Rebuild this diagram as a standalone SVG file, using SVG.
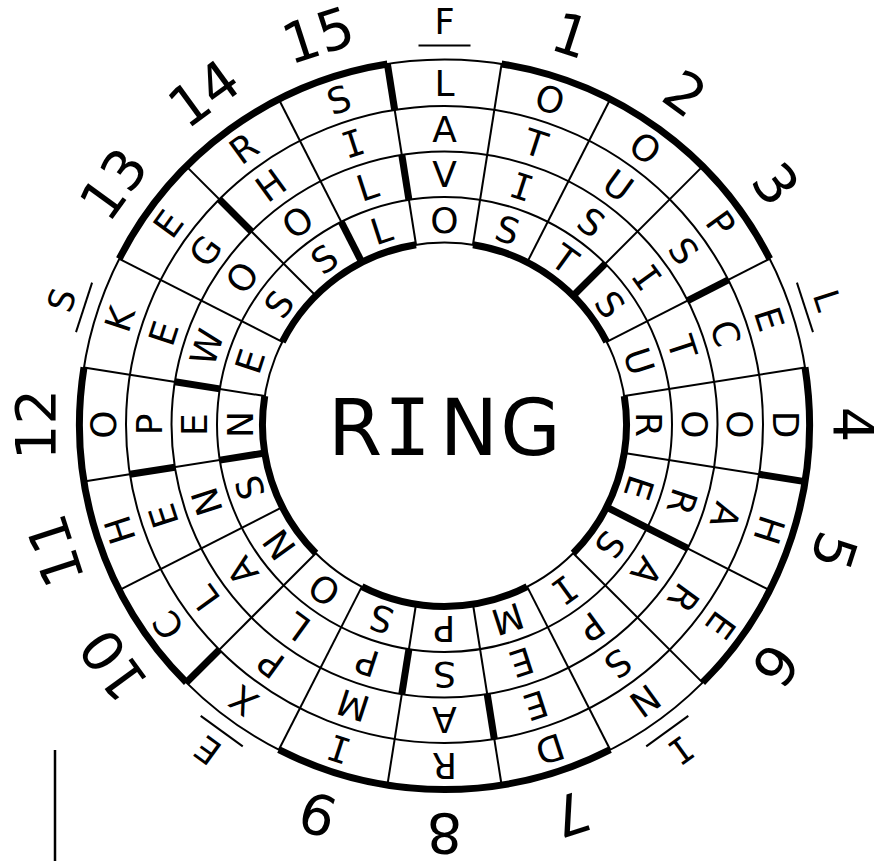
<svg xmlns="http://www.w3.org/2000/svg" width="885" height="861" viewBox="0 0 885 861">
<style>
.thin{fill:none;stroke:#000;stroke-width:2}
.thick{fill:none;stroke:#000;stroke-width:7}
text{font-family:"DejaVu Sans",Verdana,sans-serif;fill:#000;text-anchor:middle}
.c{font-size:36px}
.n{font-size:56px}
.l{font-size:35px}
.i{font-family:"DejaVu Sans Mono",monospace}
.ring{font-size:78px}
.bar{stroke:#000;stroke-width:2}
</style>
<defs>
<line id="rad" class="thin" x1="0" y1="-182" x2="0" y2="-365"/>
<line id="t1" class="thick" x1="0" y1="-318.5" x2="0" y2="-365"/>
<line id="t2" class="thick" x1="0" y1="-273" x2="0" y2="-318.5"/>
<line id="t3" class="thick" x1="0" y1="-227.5" x2="0" y2="-273"/>
<line id="t4" class="thick" x1="0" y1="-182" x2="0" y2="-227.5"/>
</defs>
<rect width="885" height="861" fill="#fff"/>
<g transform="translate(444.5 424.5)">
<g id="grid">
<circle class="thin" r="182"/>
<circle class="thin" r="227.5"/>
<circle class="thin" r="273"/>
<circle class="thin" r="318.5"/>
<circle class="thin" r="365"/>
<use href="#rad" transform="rotate(9)"/>
<use href="#rad" transform="rotate(27)"/>
<use href="#rad" transform="rotate(45)"/>
<use href="#rad" transform="rotate(63)"/>
<use href="#rad" transform="rotate(81)"/>
<use href="#rad" transform="rotate(99)"/>
<use href="#rad" transform="rotate(117)"/>
<use href="#rad" transform="rotate(135)"/>
<use href="#rad" transform="rotate(153)"/>
<use href="#rad" transform="rotate(171)"/>
<use href="#rad" transform="rotate(189)"/>
<use href="#rad" transform="rotate(207)"/>
<use href="#rad" transform="rotate(225)"/>
<use href="#rad" transform="rotate(243)"/>
<use href="#rad" transform="rotate(261)"/>
<use href="#rad" transform="rotate(279)"/>
<use href="#rad" transform="rotate(297)"/>
<use href="#rad" transform="rotate(315)"/>
<use href="#rad" transform="rotate(333)"/>
<use href="#rad" transform="rotate(351)"/>
</g>
<g id="borders">
<path class="thick" d="M57.10,-360.51A365,365 0 0 1 325.22,-165.71M360.51,-57.10A365,365 0 0 1 258.09,258.09M165.71,325.22A365,365 0 0 1 -165.71,325.22M-258.09,258.09A365,365 0 0 1 -360.51,-57.10M-325.22,-165.71A365,365 0 0 1 -57.10,-360.51"/>
<path class="thick" d="M28.47,-179.76A182,182 0 0 1 162.16,-82.63M179.76,-28.47A182,182 0 0 1 128.69,128.69M82.63,162.16A182,182 0 0 1 -82.63,162.16M-128.69,128.69A182,182 0 0 1 -179.76,-28.47M-162.16,-82.63A182,182 0 0 1 -28.47,-179.76"/>
<use href="#t1" transform="rotate(351)"/>
<use href="#t1" transform="rotate(99)"/>
<use href="#t1" transform="rotate(225)"/>
<use href="#t2" transform="rotate(63)"/>
<use href="#t2" transform="rotate(171)"/>
<use href="#t2" transform="rotate(261)"/>
<use href="#t2" transform="rotate(315)"/>
<use href="#t3" transform="rotate(351)"/>
<use href="#t3" transform="rotate(117)"/>
<use href="#t3" transform="rotate(189)"/>
<use href="#t3" transform="rotate(279)"/>
<use href="#t4" transform="rotate(333)"/>
<use href="#t4" transform="rotate(45)"/>
<use href="#t4" transform="rotate(117)"/>
<use href="#t4" transform="rotate(261)"/>
</g>
<g id="s0" transform="rotate(0)"><text class="c" y="-328.6">L</text><text class="c" y="-282.6">A</text><text class="c" y="-237.1">V</text><text class="c" y="-191.6">O</text><text class="l" y="-390.2">F</text><line class="bar" x1="-26" y1="-379" x2="26" y2="-379"/></g>
<g id="s1" transform="rotate(18)"><text class="c" y="-328.6">O</text><text class="c" y="-282.6">T</text><text class="c i" y="-237.1">I</text><text class="c" y="-191.6">S</text><text class="n" y="-389.5">1</text></g>
<g id="s2" transform="rotate(36)"><text class="c" y="-328.6">O</text><text class="c" y="-282.6">U</text><text class="c" y="-237.1">S</text><text class="c" y="-191.6">T</text><text class="n" y="-389.5">2</text></g>
<g id="s3" transform="rotate(54)"><text class="c" y="-328.6">P</text><text class="c" y="-282.6">S</text><text class="c i" y="-237.1">I</text><text class="c" y="-191.6">S</text><text class="n" y="-389.5">3</text></g>
<g id="s4" transform="rotate(72)"><text class="c" y="-328.6">E</text><text class="c" y="-282.6">C</text><text class="c" y="-237.1">T</text><text class="c" y="-191.6">U</text><text class="l" y="-390.2">L</text><line class="bar" x1="-26" y1="-379" x2="26" y2="-379"/></g>
<g id="s5" transform="rotate(90)"><text class="c" y="-328.6">D</text><text class="c" y="-282.6">O</text><text class="c" y="-237.1">O</text><text class="c" y="-191.6">R</text><text class="n" y="-389.5">4</text></g>
<g id="s6" transform="rotate(108)"><text class="c" y="-328.6">H</text><text class="c" y="-282.6">A</text><text class="c" y="-237.1">R</text><text class="c" y="-191.6">E</text><text class="n" y="-389.5">5</text></g>
<g id="s7" transform="rotate(126)"><text class="c" y="-328.6">E</text><text class="c" y="-282.6">R</text><text class="c" y="-237.1">A</text><text class="c" y="-191.6">S</text><text class="n" y="-389.5">6</text></g>
<g id="s8" transform="rotate(144)"><text class="c" y="-328.6">N</text><text class="c" y="-282.6">S</text><text class="c" y="-237.1">P</text><text class="c i" y="-191.6">I</text><text class="l i" y="-390.2">I</text><line class="bar" x1="-26" y1="-379" x2="26" y2="-379"/></g>
<g id="s9" transform="rotate(162)"><text class="c" y="-328.6">D</text><text class="c" y="-282.6">E</text><text class="c" y="-237.1">E</text><text class="c" y="-191.6">M</text><text class="n" y="-389.5">7</text></g>
<g id="s10" transform="rotate(180)"><text class="c" y="-328.6">R</text><text class="c" y="-282.6">A</text><text class="c" y="-237.1">S</text><text class="c" y="-191.6">P</text><text class="n" y="-389.5">8</text></g>
<g id="s11" transform="rotate(198)"><text class="c i" y="-328.6">I</text><text class="c" y="-282.6">M</text><text class="c" y="-237.1">P</text><text class="c" y="-191.6">S</text><text class="n" y="-389.5">9</text></g>
<g id="s12" transform="rotate(216)"><text class="c" y="-328.6">X</text><text class="c" y="-282.6">P</text><text class="c" y="-237.1">L</text><text class="c" y="-191.6">O</text><text class="l" y="-390.2">E</text><line class="bar" x1="-26" y1="-379" x2="26" y2="-379"/></g>
<g id="s13" transform="rotate(234)"><text class="c" y="-328.6">C</text><text class="c" y="-282.6">L</text><text class="c" y="-237.1">A</text><text class="c" y="-191.6">N</text><text class="n" y="-389.5">10</text></g>
<g id="s14" transform="rotate(252)"><text class="c" y="-328.6">H</text><text class="c" y="-282.6">E</text><text class="c" y="-237.1">N</text><text class="c" y="-191.6">S</text><text class="n" y="-389.5">11</text></g>
<g id="s15" transform="rotate(270)"><text class="c" y="-328.6">O</text><text class="c" y="-282.6">P</text><text class="c" y="-237.1">E</text><text class="c" y="-191.6">N</text><text class="n" y="-389.5">12</text></g>
<g id="s16" transform="rotate(288)"><text class="c" y="-328.6">K</text><text class="c" y="-282.6">E</text><text class="c" y="-237.1">W</text><text class="c" y="-191.6">E</text><text class="l" y="-390.2">S</text><line class="bar" x1="-26" y1="-379" x2="26" y2="-379"/></g>
<g id="s17" transform="rotate(306)"><text class="c" y="-328.6">E</text><text class="c" y="-282.6">G</text><text class="c" y="-237.1">O</text><text class="c" y="-191.6">S</text><text class="n" y="-389.5">13</text></g>
<g id="s18" transform="rotate(324)"><text class="c" y="-328.6">R</text><text class="c" y="-282.6">H</text><text class="c" y="-237.1">O</text><text class="c" y="-191.6">S</text><text class="n" y="-389.5">14</text></g>
<g id="s19" transform="rotate(342)"><text class="c" y="-328.6">S</text><text class="c i" y="-282.6">I</text><text class="c" y="-237.1">L</text><text class="c" y="-191.6">L</text><text class="n" y="-389.5">15</text></g>
</g>
<g id="title">
<text class="ring" x="355" y="455">R</text>
<text class="ring i" x="407.5" y="455">I</text>
<text class="ring" x="469" y="455">N</text>
<text class="ring" x="530.5" y="455">G</text>
</g>
<line x1="55" y1="750" x2="55" y2="861" stroke="#000" stroke-width="2.5"/>
</svg>
